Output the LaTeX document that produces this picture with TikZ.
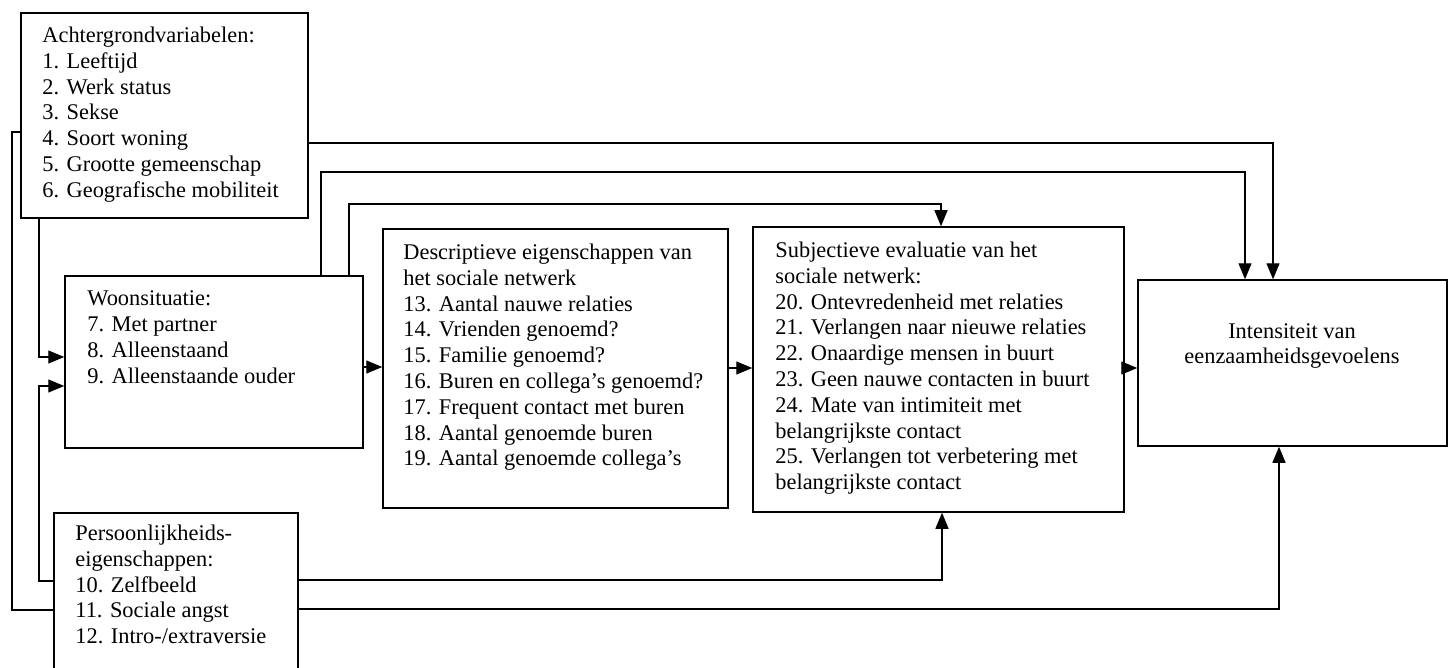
\documentclass[tikz,border=0pt]{standalone}
\usepackage{fontspec}
\setmainfont{Liberation Serif}
\usepackage{tikz}
\usetikzlibrary{arrows.meta}

\begin{document}
\begin{tikzpicture}[x=0.5pt, y=-0.5pt,
  box/.style={draw, line width=0.75pt, inner sep=0pt},
  txt/.style={font=\fontsize{11.2pt}{12.9pt}\selectfont, align=left, inner sep=0pt, anchor=north west},
  link/.style={line width=0.65pt, -{Triangle[length=8pt,width=6.5pt]}}]
\clip (0,0) rectangle (1455,668);
\fill[white] (0,0) rectangle (1455,668);
% boxes
\node[box, minimum width=143.5pt, minimum height=102.5pt] (achter) at (164.5,115.5) {};
\node[box, minimum width=149pt, minimum height=86pt] (woon) at (214,362) {};
\node[box, minimum width=172.5pt, minimum height=139.5pt] (descr) at (555.5,368.5) {};
\node[box, minimum width=185.5pt, minimum height=142.5pt] (subj) at (938.5,369.5) {};
\node[box, minimum width=154.5pt, minimum height=83pt] (inten) at (1292.5,363) {};
\node[box, minimum width=122pt, minimum height=90pt] (pers) at (176,603) {};
% texts
\node[txt] (achtertxt) at (42,26.5) {Achtergrondvariabelen:\\1. Leeftijd\\2. Werk status\\3. Sekse\\4. Soort woning\\5. Grootte gemeenschap\\6. Geografische mobiliteit};
\node[txt] (woontxt) at (87,290.5) {Woonsituatie:\\7. Met partner\\8. Alleenstaand\\9. Alleenstaande ouder};
\node[txt] (descrtxt) at (403,243.5) {Descriptieve eigenschappen van\\het sociale netwerk\\13. Aantal nauwe relaties\\14. Vrienden genoemd?\\15. Familie genoemd?\\16. Buren en collega's genoemd?\\17. Frequent contact met buren\\18. Aantal genoemde buren\\19. Aantal genoemde collega's};
\node[txt] (subjtxt) at (775,241.5) {Subjectieve evaluatie van het\\sociale netwerk:\\20. Ontevredenheid met relaties\\21. Verlangen naar nieuwe relaties\\22. Onaardige mensen in buurt\\23. Geen nauwe contacten in buurt\\24. Mate van intimiteit met\\belangrijkste contact\\25. Verlangen tot verbetering met\\belangrijkste contact};
\node[txt] (perstxt) at (75,524.5) {Persoonlijkheids-\\eigenschappen:\\10. Zelfbeeld\\11. Sociale angst\\12. Intro-/extraversie};
\node[txt, align=center, anchor=center] (intentxt) at (1292,346) {Intensiteit van\\eenzaamheidsgevoelens};
% connectors
\draw[link] (achter.east |- 0,143) -| (inten.north -| 1273,0);
\draw[link] (woon.north -| 321,0) |- (1245,172) -- (inten.north -| 1245,0);
\draw[link] (woon.north -| 349,0) |- (941,204) -- (subj.north -| 941,0);
\draw[link] (achter.south -| 39,0) |- (woon.west |- 0,357);
\draw[link] (pers.west |- 0,581) -| (39,386) -- (woon.west |- 0,386);
\draw[line width=0.65pt] (achter.west |- 0,132) -| (12,610) -- (pers.west |- 0,610);
\draw[link] (pers.east |- 0,609) -| (inten.south -| 1279,0);
\draw[link] (pers.east |- 0,580) -| (subj.south -| 942,0);
\draw[link] (woon.east |- 0,367) -- (descr.west |- 0,367);
\draw[link] (descr.east |- 0,368) -- (subj.west |- 0,368);
\draw[link] (subj.east |- 0,368) -- (inten.west |- 0,368);
\end{tikzpicture}
\end{document}
